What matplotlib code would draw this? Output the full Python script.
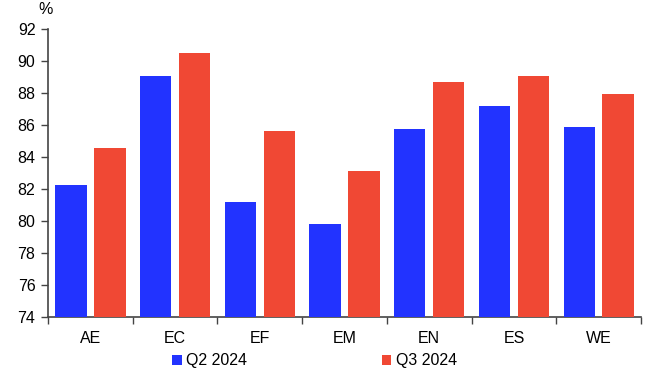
import matplotlib
matplotlib.use("Agg")
import matplotlib.pyplot as plt
import numpy as np

plt.rcParams["font.family"] = ["Liberation Sans", "DejaVu Sans"]

BLUE = "#2233FF"
RED = "#F04834"
AXIS = "#444444"

regions = ["AE", "EC", "EF", "EM", "EN", "ES", "WE"]
q2_2024 = [82.25, 89.05, 81.2, 79.8, 85.75, 87.2, 85.85]
q3_2024 = [84.55, 90.5, 85.65, 83.15, 88.7, 89.05, 87.95]
yticks = [74, 76, 78, 80, 82, 84, 86, 88, 90, 92]

fig = plt.figure(figsize=(6.46, 3.76), dpi=100)
ax = fig.add_axes([0.0743, 0.157, 0.918, 0.766])

x = np.arange(len(regions))
width = 0.37
ax.bar(x - 0.23, q2_2024, width, color=BLUE, label="Q2 2024", zorder=3)
ax.bar(x + 0.23, q3_2024, width, color=RED, label="Q3 2024", zorder=3)

ax.set_xlim(-0.5, len(regions) - 0.5)
ax.set_ylim(74, 92)
ax.set_yticks(yticks)
ax.tick_params(axis="y", labelsize=11.5, length=5, color=AXIS, width=1, pad=4)
# category labels centred, ticks at boundaries
ax.set_xticks(np.arange(len(regions) + 1) - 0.5)
ax.set_xticklabels([])
ax.set_xticks(x, minor=True)
ax.set_xticklabels(regions, minor=True, fontsize=11.5)
ax.tick_params(axis="x", which="major", length=5, color=AXIS, width=1)
ax.tick_params(axis="x", which="minor", length=0, pad=10)

for s in ["top", "right"]:
    ax.spines[s].set_visible(False)
for s in ["left", "bottom"]:
    ax.spines[s].set_color(AXIS)
    ax.spines[s].set_linewidth(1.2)

fig.text(0.071, 0.955, "%", ha="center", va="bottom", fontsize=11.5)

fig.legend(loc="center", bbox_to_anchor=(0.487, 0.04), ncol=2, frameon=False,
           fontsize=11.5, handlelength=0.6, handleheight=0.6, handletextpad=0.3,
           columnspacing=8.4)

fig.savefig("out.png", dpi=100)
